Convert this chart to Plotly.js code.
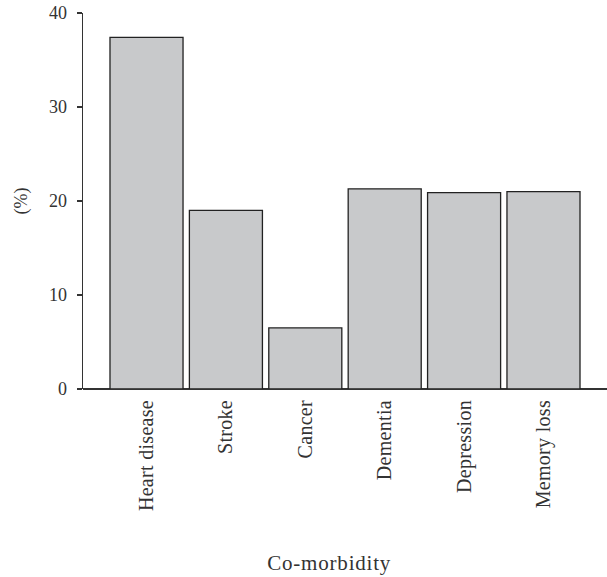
<!DOCTYPE html>
<html>
<head>
<meta charset="utf-8">
<script src="https://cdn.plot.ly/plotly-3.0.1.min.js"></script>
<style>
html,body{margin:0;padding:0;background:#fff;}
#chart{width:607px;height:577px;}
#chart .annotation-text{letter-spacing:0.8px;}
#chart .xtick text{letter-spacing:0.3px;}
</style>
</head>
<body>
<div id="chart"></div>
<script>
var categories = ["Heart disease", "Stroke", "Cancer", "Dementia", "Depression", "Memory loss"];
var percentValues = [37.4, 19.0, 6.5, 21.3, 20.9, 21.0];
var yTickValues = [0, 10, 20, 30, 40];
var xTitle = "Co-morbidity";
var yTitle = "(%)";

var font = "Liberation Serif, Times New Roman, serif";
var trace = {
  type: "bar",
  x: categories,
  y: percentValues,
  width: 0.92,
  marker: {color: "#c8c9cb", line: {color: "#222222", width: 1.3}},
  hoverinfo: "x+y"
};
var layout = {
  width: 607, height: 577,
  margin: {l: 83, r: 0, t: 13, b: 188},
  paper_bgcolor: "#ffffff", plot_bgcolor: "#ffffff",
  showlegend: false,
  font: {family: font, size: 18, color: "#333333"},
  xaxis: {
    type: "category",
    range: [-0.8, 5.8],
    tickangle: -90,
    ticks: "",
    showline: false,
    showgrid: false,
    zeroline: false,
    ticklabelstandoff: 6,
    tickfont: {family: font, size: 20, color: "#333333"}
  },
  yaxis: {
    range: [0, 40],
    tickvals: yTickValues,
    ticks: "outside",
    ticklen: 5,
    tickwidth: 1.3,
    tickcolor: "#333333",
    showline: true,
    linecolor: "#333333",
    linewidth: 1.3,
    showgrid: false,
    zeroline: true,
    zerolinecolor: "#333333",
    zerolinewidth: 1.5,
    ticklabelstandoff: 6,
    tickfont: {family: font, size: 18, color: "#333333"},
    title: {text: yTitle, standoff: 16, font: {family: font, size: 18, color: "#333333"}}
  },
  annotations: [{
    text: xTitle, xref: "paper", yref: "paper",
    x: 0.471, y: -0.463, xanchor: "center", yanchor: "middle",
    showarrow: false, font: {family: font, size: 21, color: "#333333"}
  }]
};
Plotly.newPlot("chart", [trace], layout, {displayModeBar: false, staticPlot: true});
</script>
</body>
</html>
